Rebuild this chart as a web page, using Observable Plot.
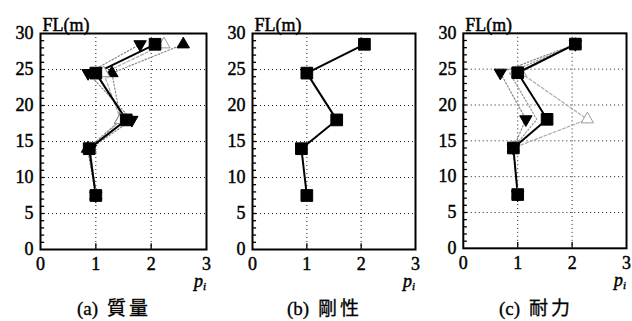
<!DOCTYPE html>
<html>
<head>
<meta charset="utf-8">
<script src="https://cdn.jsdelivr.net/npm/d3@7"></script>
<script src="https://cdn.jsdelivr.net/npm/@observablehq/plot@0.6"></script>
<style>
  body { margin: 0; background: #fff; }
  #wrap { position: relative; width: 632px; height: 321px; overflow: hidden; background:#fff; }
  #wrap svg text { font-family: "Liberation Serif", serif !important; stroke: #000; stroke-width: 0.45px; }
  .panel { position: absolute; top: 0; }
  .cap { position: absolute; top: 296px; font-size: 19px; line-height: 22px; text-align: center; white-space: nowrap; color:#000; -webkit-text-stroke: 0.3px #000; }
  .cap .lab { font-family: "Liberation Serif", serif; }
  .cap .cjk { font-family: "Noto Sans CJK JP", sans-serif; letter-spacing: 3px; margin-left: 9px; }
</style>
</head>
<body>
<div id="wrap"></div>
<script>
// Floor heights (m)
const heights = [7.5, 14, 18, 24.5, 28.5];

// (a) 質量 — mass variations
const massBase = [1.0, 0.88, 1.55, 1.0, 2.07];
const massUp   = [1.0, 0.85, 1.45, 1.29, 2.58];
const massDown = [1.0, 0.90, 1.65, 0.86, 1.80];
const massOpen = [1.0, 0.90, 1.45, 1.14, 2.23];

// (b) 剛性 — stiffness
const stiffBase = [1.0, 0.90, 1.55, 1.0, 2.06];

// (c) 耐力 — strength variations
const strBase = [1.0, 0.92, 1.54, 1.0, 2.06];
const strDown = [1.0, 0.92, 1.15, 0.68, 2.06];
const strOpen = [1.0, 0.92, 2.28, 1.05, 2.06];
const strMid  = [1.0, 0.92, 1.35, 0.85, 2.06];

const yLabelTicks = [0, 5, 10, 15, 20, 25, 30];
const xLabelTicks = [0, 1, 2, 3];
const gridY = [5, 10, 15, 20, 25];
const gridX = [1, 2];
const minorY = d3.range(1, 30, 1);

const captions = [["(a)", "質量"], ["(b)", "剛性"], ["(c)", "耐力"]];

const triDown = {
  draw(ctx, size) {
    const s = Math.sqrt(size / (Math.sqrt(3) / 4));
    const h = s * Math.sqrt(3) / 2;
    ctx.moveTo(-s / 2, -h / 3);
    ctx.lineTo(s / 2, -h / 3);
    ctx.lineTo(0, 2 * h / 3);
    ctx.closePath();
  }
};
const triUp = {
  draw(ctx, size) {
    const s = Math.sqrt(size / (Math.sqrt(3) / 4));
    const h = s * Math.sqrt(3) / 2;
    ctx.moveTo(-s / 2, h / 3);
    ctx.lineTo(s / 2, h / 3);
    ctx.lineTo(0, -2 * h / 3);
    ctx.closePath();
  }
};

function rows(xs) { return xs.map((x, i) => ({x, y: heights[i]})); }

const panels = [
  {left: 0, ml: 40, mr: 5, series: [
    {data: massUp, dash: "1.5,2", stroke: "#888", symbol: triUp, fill: "#000", r: 4.6},
    {data: massDown, dash: "1.5,2", stroke: "#888", symbol: triDown, fill: "#000", r: 4.6},
    {data: massOpen, dash: "3,2", stroke: "#aaa", symbol: triUp, fill: "#fff", r: 4.6, mstroke: "#999"},
    {data: massBase, dash: null, stroke: "#000", symbol: "square", fill: "#000", r: 6.6, base: true}
  ]},
  {left: 211, ml: 41, mr: 7, series: [
    {data: stiffBase, dash: null, stroke: "#000", symbol: "square", fill: "#000", r: 6.6, base: true}
  ]},
  {left: 422, ml: 41, mr: 6, series: [
    {data: strMid, dash: "1.5,2", stroke: "#999", symbol: null},
    {data: strDown, dash: "1.5,2", stroke: "#888", symbol: triDown, fill: "#000", r: 4.6},
    {data: strOpen, dash: "3,2", stroke: "#aaa", symbol: triUp, fill: "#fff", r: 4.6, mstroke: "#999"},
    {data: strBase, dash: null, stroke: "#000", symbol: "square", fill: "#000", r: 6.6, base: true}
  ]}
];

const wrap = document.getElementById("wrap");
const W = 211, H = 292, MT = 33, MB = 43;

panels.forEach((p, pi) => {
  const marks = [
    Plot.gridY(gridY, {stroke: "#000", strokeOpacity: 0.9, strokeWidth: 1, strokeDasharray: "1,3"}),
    Plot.gridX(gridX, {stroke: "#000", strokeOpacity: 0.9, strokeWidth: 1, strokeDasharray: "1,3"}),
    Plot.ruleY(minorY, {x1: 0, x2: 0.075, stroke: "#000", strokeWidth: 1.3}),
    Plot.ruleX(gridX, {y1: 0, y2: 0.8, stroke: "#000", strokeWidth: 1.3}),
    Plot.axisY(yLabelTicks, {tickSize: 0, tickPadding: 7, fontSize: 18, label: null}),
    Plot.axisX(xLabelTicks, {tickSize: 0, tickPadding: 8, fontSize: 18, label: null}),
  ];
  for (const s of p.series) {
    const d = rows(s.data);
    marks.push(Plot.line(d, {x: "x", y: "y", stroke: s.stroke, strokeWidth: s.base ? 2 : 1.2, strokeDasharray: s.dash || undefined}));
  }
  for (const s of p.series) {
    if (!s.symbol) continue;
    const d = rows(s.data);
    marks.push(Plot.dot(d, {x: "x", y: "y", symbol: s.symbol, r: s.r, fill: s.fill, stroke: s.mstroke || s.fill, strokeWidth: 1}));
  }
  marks.push(Plot.frame({stroke: "#000", strokeWidth: 2}));
  marks.push(Plot.text(["FL(m)"], {frameAnchor: "top-left", dx: 2, dy: -15, textAnchor: "start", fontSize: 18}));

  const svg = Plot.plot({
    width: W, height: H,
    marginLeft: p.ml, marginRight: p.mr, marginTop: MT, marginBottom: MB,
    x: {domain: [0, 3], axis: null, label: null},
    y: {domain: [0, 30], axis: null, label: null},
    style: {fontFamily: "Liberation Serif", background: "transparent", overflow: "visible", color: "#000"},
    marks
  });
  const div = document.createElement("div");
  div.className = "panel";
  div.style.left = p.left + "px";
  div.appendChild(svg);
  wrap.appendChild(div);

  // p_i axis label
  const fr = W - p.mr;
  const t = d3.select(svg).append("text")
    .attr("x", fr - 6).attr("y", 287)
    .attr("text-anchor", "middle")
    .attr("font-size", 18).attr("font-style", "italic").attr("fill", "#000");
  t.append("tspan").text("p");
  t.append("tspan").attr("font-size", 11).attr("dy", 3).text("i");

  const cap = document.createElement("div");
  cap.className = "cap";
  const fw = W - p.ml - p.mr;
  cap.style.left = (p.left + p.ml - 9) + "px";
  cap.style.width = fw + "px";
  cap.innerHTML = `<span class="lab">${captions[pi][0]}</span><span class="cjk">${captions[pi][1]}</span>`;
  wrap.appendChild(cap);
});
</script>
</body>
</html>
